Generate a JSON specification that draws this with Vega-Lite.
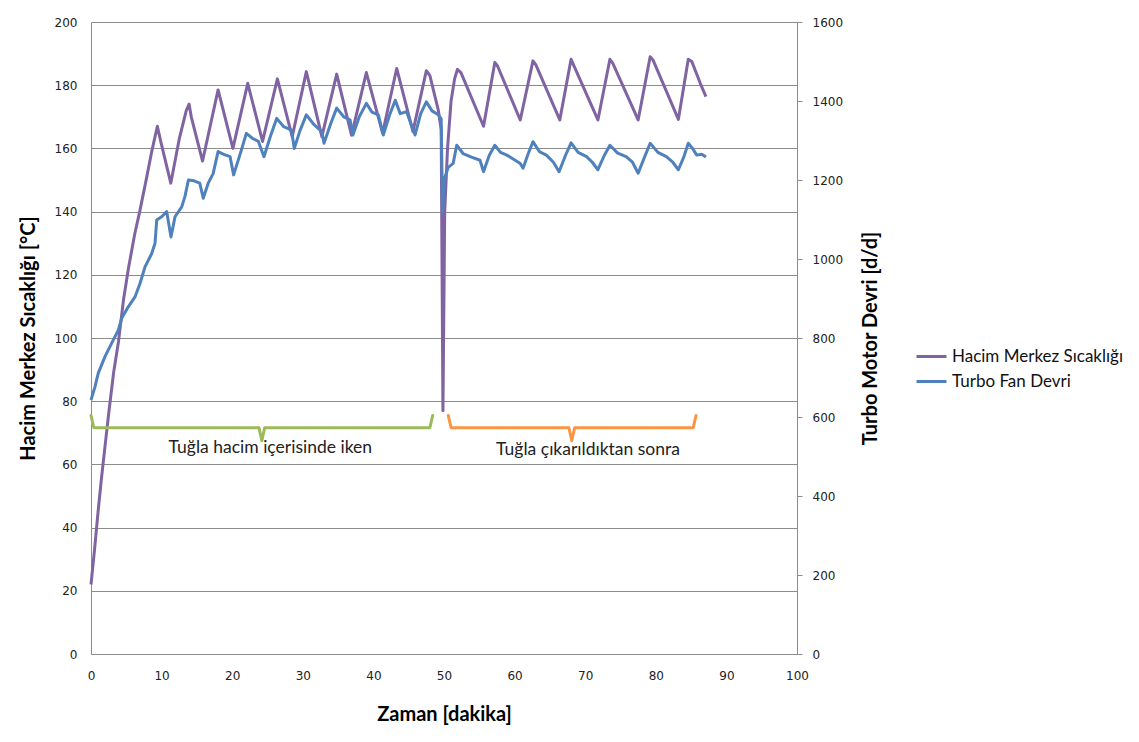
{
  "$schema": "https://vega.github.io/schema/vega-lite/v6.json",
  "width": 706,
  "height": 632,
  "autosize": {"type": "none"},
  "padding": {"left": 91, "top": 22, "right": 342, "bottom": 88},
  "background": "white",
  "config": {
    "view": {"stroke": null},
    "axis": {"labelFont": "DejaVu Sans", "labelFontSize": 12, "labelColor": "#222222", "labelFlush": false, "titleFont": "Lato", "titleFontSize": 20, "titleFontWeight": "bold", "titleColor": "#000000", "domainColor": "#8c8c8c", "gridColor": "#8c8c8c", "tickColor": "#8c8c8c"}
  },
  "datasets": {
    "temp": [
      {"t": 0, "v": 22}, {"t": 0.5, "v": 33}, {"t": 1.0, "v": 45}, {"t": 1.5, "v": 56}, {"t": 2.0, "v": 66}, {"t": 2.5, "v": 76},
      {"t": 3.2, "v": 89}, {"t": 3.9, "v": 99}, {"t": 4.6, "v": 112}, {"t": 5.3, "v": 122}, {"t": 6.2, "v": 133}, {"t": 6.9, "v": 140},
      {"t": 7.9, "v": 151}, {"t": 8.6, "v": 159}, {"t": 9.4, "v": 167}, {"t": 9.9, "v": 162}, {"t": 11.3, "v": 149}, {"t": 12.5, "v": 163},
      {"t": 13.5, "v": 172}, {"t": 13.9, "v": 174}, {"t": 14.2, "v": 170}, {"t": 15.8, "v": 156}, {"t": 18.0, "v": 178.5}, {"t": 20.1, "v": 160},
      {"t": 22.2, "v": 180.6}, {"t": 24.3, "v": 162.2}, {"t": 26.4, "v": 182}, {"t": 28.5, "v": 163.7}, {"t": 30.5, "v": 184.3}, {"t": 32.7, "v": 163.7},
      {"t": 34.8, "v": 183.5}, {"t": 36.9, "v": 164.2}, {"t": 39.0, "v": 184}, {"t": 41.3, "v": 164.8}, {"t": 43.3, "v": 185.3}, {"t": 45.6, "v": 165.3},
      {"t": 47.5, "v": 184.6}, {"t": 48.0, "v": 183}, {"t": 49.2, "v": 172}, {"t": 49.6, "v": 166}, {"t": 49.85, "v": 77}, {"t": 50.1, "v": 140},
      {"t": 50.5, "v": 160}, {"t": 51.0, "v": 175}, {"t": 51.5, "v": 182}, {"t": 51.9, "v": 185}, {"t": 52.4, "v": 184}, {"t": 55.6, "v": 167},
      {"t": 57.2, "v": 187.2}, {"t": 57.6, "v": 186}, {"t": 60.8, "v": 169}, {"t": 62.6, "v": 187.7}, {"t": 63.0, "v": 186.5}, {"t": 66.4, "v": 169},
      {"t": 68.0, "v": 188.2}, {"t": 71.8, "v": 169}, {"t": 73.5, "v": 188.2}, {"t": 73.9, "v": 187}, {"t": 77.5, "v": 169}, {"t": 79.2, "v": 189},
      {"t": 79.6, "v": 188}, {"t": 83.2, "v": 169.2}, {"t": 84.6, "v": 188.2}, {"t": 85.1, "v": 187.5}, {"t": 86.3, "v": 180.6}, {"t": 87.1, "v": 176.4}
    ],
    "fan": [
      {"t": 0, "v": 643}, {"t": 0.57, "v": 677}, {"t": 1.03, "v": 711}, {"t": 1.98, "v": 753}, {"t": 2.93, "v": 787}, {"t": 3.87, "v": 820},
      {"t": 4.35, "v": 850}, {"t": 5.28, "v": 879}, {"t": 6.23, "v": 904}, {"t": 6.94, "v": 938}, {"t": 7.65, "v": 980}, {"t": 8.6, "v": 1014},
      {"t": 9.07, "v": 1040}, {"t": 9.31, "v": 1099}, {"t": 10.01, "v": 1107}, {"t": 10.72, "v": 1120}, {"t": 11.33, "v": 1056}, {"t": 11.9, "v": 1107},
      {"t": 12.85, "v": 1132}, {"t": 13.3, "v": 1158}, {"t": 13.8, "v": 1200}, {"t": 14.6, "v": 1198}, {"t": 15.4, "v": 1192}, {"t": 15.9, "v": 1154},
      {"t": 16.6, "v": 1192}, {"t": 17.3, "v": 1216}, {"t": 18.0, "v": 1272}, {"t": 18.8, "v": 1265}, {"t": 19.7, "v": 1259}, {"t": 20.2, "v": 1213},
      {"t": 21.2, "v": 1270}, {"t": 22.0, "v": 1318}, {"t": 22.9, "v": 1305}, {"t": 23.7, "v": 1298}, {"t": 24.5, "v": 1259}, {"t": 25.4, "v": 1310},
      {"t": 26.3, "v": 1356}, {"t": 27.3, "v": 1335}, {"t": 28.4, "v": 1326}, {"t": 28.8, "v": 1280}, {"t": 29.6, "v": 1325}, {"t": 30.5, "v": 1365},
      {"t": 31.6, "v": 1340}, {"t": 32.7, "v": 1322}, {"t": 33.0, "v": 1293}, {"t": 34.0, "v": 1345}, {"t": 34.8, "v": 1382}, {"t": 35.8, "v": 1360},
      {"t": 36.7, "v": 1352}, {"t": 37.1, "v": 1314}, {"t": 38.0, "v": 1360}, {"t": 39.0, "v": 1394}, {"t": 39.8, "v": 1372}, {"t": 40.7, "v": 1365},
      {"t": 41.4, "v": 1314}, {"t": 42.3, "v": 1365}, {"t": 43.1, "v": 1402}, {"t": 43.8, "v": 1368}, {"t": 44.7, "v": 1373}, {"t": 45.9, "v": 1314},
      {"t": 46.7, "v": 1368}, {"t": 47.5, "v": 1398}, {"t": 48.3, "v": 1375}, {"t": 49.2, "v": 1365}, {"t": 49.6, "v": 1355}, {"t": 49.8, "v": 1116},
      {"t": 50.0, "v": 1200}, {"t": 50.6, "v": 1232}, {"t": 51.3, "v": 1242}, {"t": 51.8, "v": 1288}, {"t": 52.7, "v": 1267}, {"t": 53.9, "v": 1258},
      {"t": 55.1, "v": 1250}, {"t": 55.6, "v": 1221}, {"t": 56.4, "v": 1262}, {"t": 57.2, "v": 1288}, {"t": 58.0, "v": 1270}, {"t": 58.9, "v": 1263},
      {"t": 60.8, "v": 1242}, {"t": 61.2, "v": 1230}, {"t": 62.0, "v": 1270}, {"t": 62.6, "v": 1297}, {"t": 63.5, "v": 1272}, {"t": 64.5, "v": 1263},
      {"t": 65.5, "v": 1245}, {"t": 66.3, "v": 1221}, {"t": 67.2, "v": 1262}, {"t": 68.0, "v": 1294}, {"t": 69.0, "v": 1270}, {"t": 70.2, "v": 1259},
      {"t": 71.0, "v": 1245}, {"t": 71.8, "v": 1226}, {"t": 72.7, "v": 1262}, {"t": 73.5, "v": 1288}, {"t": 74.6, "v": 1268}, {"t": 75.8, "v": 1259},
      {"t": 76.7, "v": 1245}, {"t": 77.5, "v": 1217}, {"t": 78.4, "v": 1258}, {"t": 79.2, "v": 1293}, {"t": 80.3, "v": 1270}, {"t": 81.5, "v": 1259},
      {"t": 82.4, "v": 1245}, {"t": 83.2, "v": 1226}, {"t": 84.0, "v": 1260}, {"t": 84.6, "v": 1293}, {"t": 85.2, "v": 1280}, {"t": 85.8, "v": 1263},
      {"t": 86.5, "v": 1265}, {"t": 87.1, "v": 1258}
    ],
    "brackets": [
      {"g": "a", "i": 1, "t": 0, "v": 75.5}, {"g": "a", "i": 2, "t": 0.4, "v": 71.6}, {"g": "a", "i": 3, "t": 23.8, "v": 71.6}, {"g": "a", "i": 4, "t": 24.2, "v": 67.5},
      {"g": "a", "i": 5, "t": 24.6, "v": 71.6}, {"g": "a", "i": 6, "t": 48.0, "v": 71.6}, {"g": "a", "i": 7, "t": 48.4, "v": 75.5},
      {"g": "b", "i": 1, "t": 50.6, "v": 75.5}, {"g": "b", "i": 2, "t": 51.0, "v": 71.6}, {"g": "b", "i": 3, "t": 67.7, "v": 71.6}, {"g": "b", "i": 4, "t": 68.1, "v": 67.5},
      {"g": "b", "i": 5, "t": 68.5, "v": 71.6}, {"g": "b", "i": 6, "t": 85.3, "v": 71.6}, {"g": "b", "i": 7, "t": 85.7, "v": 75.5}
    ],
    "notes": [
      {"t": 25.4, "v": 65.2, "label": "Tuğla hacim içerisinde iken"},
      {"t": 70.4, "v": 64.6, "label": "Tuğla çıkarıldıktan sonra"}
    ]
  },
  "layer": [
    {
      "data": {"name": "temp"},
      "mark": {"type": "line", "strokeWidth": 3, "strokeJoin": "round"},
      "encoding": {
        "x": {"field": "t", "type": "quantitative", "scale": {"domain": [0, 100], "nice": false},
              "axis": {"title": "Zaman [dakika]", "values": [0,10,20,30,40,50,60,70,80,90,100], "grid": false, "ticks": false, "labelPadding": 16, "titlePadding": 23}},
        "y": {"field": "v", "type": "quantitative", "scale": {"domain": [0, 200], "nice": false},
              "axis": {"title": "Hacim Merkez Sıcaklığı [°C]", "values": [0,20,40,60,80,100,120,140,160,180,200], "grid": true, "ticks": false, "labelPadding": 14, "titlePadding": 16}},
        "color": {"field": "s", "type": "nominal",
                  "scale": {"domain": ["Hacim Merkez Sıcaklığı", "Turbo Fan Devri"], "range": ["#8064A2", "#4F81BD"]},
                  "legend": {"title": null, "orient": "none", "legendX": 824, "legendY": 318, "symbolType": "stroke", "symbolSize": 900, "symbolStrokeWidth": 3, "labelFont": "Lato", "labelFontSize": 17, "labelLimit": 400, "labelColor": "#111111", "labelOffset": 4, "rowPadding": 0}}
      },
      "transform": [{"calculate": "'Hacim Merkez Sıcaklığı'", "as": "s"}]
    },
    {
      "data": {"name": "fan"},
      "mark": {"type": "line", "strokeWidth": 3, "strokeJoin": "round"},
      "transform": [{"calculate": "'Turbo Fan Devri'", "as": "s"}],
      "encoding": {
        "x": {"field": "t", "type": "quantitative"},
        "y": {"field": "v", "type": "quantitative", "scale": {"domain": [0, 1600], "nice": false},
              "axis": {"title": "Turbo Motor Devri [d/d]", "orient": "right", "format": "d", "values": [0,200,400,600,800,1000,1200,1400,1600], "grid": false, "ticks": true, "tickSize": 5, "labelPadding": 10, "titlePadding": 18, "titleAngle": 270, "titleBaseline": "top"}},
        "color": {"field": "s", "type": "nominal"}
      }
    },
    {
      "data": {"name": "brackets"},
      "transform": [{"filter": "datum.g === 'a'"}],
      "mark": {"type": "line", "color": "#9BBB59", "strokeWidth": 3, "strokeJoin": "round", "strokeCap": "round"},
      "encoding": {
        "x": {"field": "t", "type": "quantitative"},
        "y": {"field": "v", "type": "quantitative", "scale": {"domain": [0, 200], "nice": false}, "axis": null},
        "order": {"field": "i"}
      }
    },
    {
      "data": {"name": "brackets"},
      "transform": [{"filter": "datum.g === 'b'"}],
      "mark": {"type": "line", "color": "#F79646", "strokeWidth": 3, "strokeJoin": "round", "strokeCap": "round"},
      "encoding": {
        "x": {"field": "t", "type": "quantitative"},
        "y": {"field": "v", "type": "quantitative", "scale": {"domain": [0, 200], "nice": false}, "axis": null},
        "order": {"field": "i"}
      }
    },
    {
      "data": {"name": "notes"},
      "mark": {"type": "text", "font": "Lato", "fontSize": 17.5, "color": "#222222", "align": "center", "baseline": "middle"},
      "encoding": {
        "x": {"field": "t", "type": "quantitative"},
        "y": {"field": "v", "type": "quantitative", "scale": {"domain": [0, 200], "nice": false}, "axis": null},
        "text": {"field": "label"}
      }
    }
  ],
  "resolve": {"scale": {"y": "independent"}}
}
